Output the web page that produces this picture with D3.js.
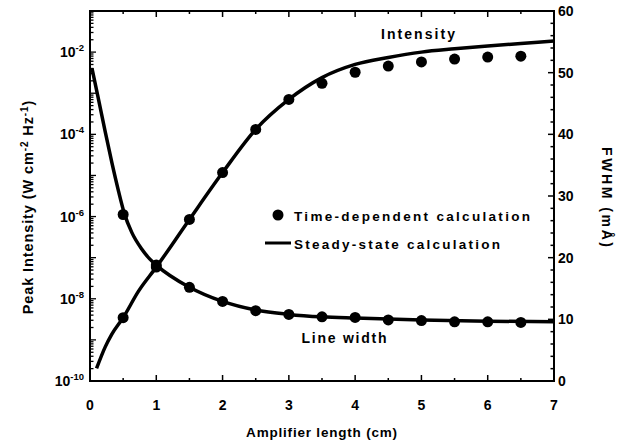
<!DOCTYPE html>
<html><head><meta charset="utf-8">
<script src="https://cdn.jsdelivr.net/npm/d3@7"></script>
<style>
body{margin:0;background:#fff;}
text{font-family:"Liberation Sans",Arial,sans-serif;font-weight:bold;fill:#000;}
</style></head>
<body><svg id="c" width="622" height="444"></svg>
<script>
// x positions (cm)
const lineX = [0.1, 0.23, 0.33, 0.5, 0.73, 1.0, 1.5, 2.0, 2.5, 3.0, 3.5, 4.0, 4.5, 5.0, 5.5, 6.0, 6.5, 7.0];
// steady-state peak intensity, log10 (W cm^-2 Hz^-1)
const intensityLineLog = [-9.69, -9.17, -8.86, -8.46, -7.82, -7.23, -6.07, -4.93, -3.88, -3.15, -2.62, -2.3, -2.13, -2.0, -1.92, -1.85, -1.79, -1.73];
// time-dependent points
const dotX = [0.5, 1.0, 1.5, 2.0, 2.5, 3.0, 3.5, 4.0, 4.5, 5.0, 5.5, 6.0, 6.5];
const intensityDotLog = [-8.46, -7.23, -6.07, -4.93, -3.88, -3.15, -2.76, -2.49, -2.34, -2.24, -2.17, -2.12, -2.1];
// line width (FWHM, mÅ)
const widthLineX = [0.03, 0.13, 0.23, 0.33, 0.43, 0.52, 0.63, 0.78, 0.9, 1.0, 1.5, 2.0, 2.5, 3.0, 3.5, 4.0, 5.0, 6.0, 7.0];
const widthLine = [50.7, 45.6, 40.4, 35.4, 30.8, 27.1, 24.1, 21.4, 19.8, 18.8, 15.2, 12.9, 11.5, 10.8, 10.4, 10.2, 9.9, 9.7, 9.6];
const widthDot = [27.0, 18.8, 15.2, 12.9, 11.4, 10.8, 10.4, 10.3, 9.9, 9.8, 9.6, 9.6, 9.5];
const xTicks = [0,1,2,3,4,5,6,7];
const yLeftLabels = [-2,-4,-6,-8,-10];
const yRightTicks = [0,10,20,30,40,50,60];

const svg = d3.select("#c");
const L=90, R=554, T=11, B=381;
const x = d3.scaleLinear().domain([0,7]).range([L,R]);
const yL = d3.scaleLog().domain([1e-10,1e-1]).range([B,T]);
const yR = d3.scaleLinear().domain([0,60]).range([B,T]);

// frame
svg.append("rect").attr("x",L).attr("y",T).attr("width",R-L).attr("height",B-T)
  .attr("fill","none").attr("stroke","#000").attr("stroke-width",2);

const g = svg.append("g");
// x ticks bottom & top
const halfTicks = d3.range(0,7.01,0.5);
halfTicks.forEach(v=>{
  const len = Number.isInteger(v)?6:3;
  g.append("line").attr("x1",x(v)).attr("x2",x(v)).attr("y1",B).attr("y2",B-len).attr("stroke","#000").attr("stroke-width",1.5);
  g.append("line").attr("x1",x(v)).attr("x2",x(v)).attr("y1",T).attr("y2",T+len).attr("stroke","#000").attr("stroke-width",1.5);
});
xTicks.forEach(v=>{
  g.append("text").attr("x",x(v)).attr("y",410).attr("text-anchor","middle").attr("font-size",14).text(v);
});
// left log ticks
for(let e=-10;e<-1;e++){
  for(let m=1;m<10;m++){
    const v=m*Math.pow(10,e);
    const len = m===1?6:3.5;
    g.append("line").attr("x1",L).attr("x2",L+len).attr("y1",yL(v)).attr("y2",yL(v)).attr("stroke","#000").attr("stroke-width",1.3);
  }
}
yLeftLabels.forEach(e=>{
  const t=g.append("text").attr("x",84).attr("y",yL(Math.pow(10,e))+5).attr("text-anchor","end").attr("font-size",14);
  t.append("tspan").text("10");
  t.append("tspan").attr("dy",-6).attr("font-size",9.5).text(String(e));
});
// right ticks
d3.range(0,60.01,2).forEach(v=>{
  const len = v%10===0?6:3.5;
  g.append("line").attr("x1",R).attr("x2",R-len).attr("y1",yR(v)).attr("y2",yR(v)).attr("stroke","#000").attr("stroke-width",1.5);
});
yRightTicks.forEach(v=>{
  g.append("text").attr("x",558).attr("y",yR(v)+5).attr("font-size",14).text(v);
});

// curves
const lineI = d3.line().x((d,i)=>x(lineX[i])).y(d=>yL(Math.pow(10,d))).curve(d3.curveMonotoneX);
svg.append("path").attr("d",lineI(intensityLineLog)).attr("fill","none").attr("stroke","#000").attr("stroke-width",3.5);
const lineW = d3.line().x((d,i)=>x(widthLineX[i])).y(d=>yR(d)).curve(d3.curveMonotoneX);
svg.append("path").attr("d",lineW(widthLine)).attr("fill","none").attr("stroke","#000").attr("stroke-width",3.5);

svg.selectAll(".di").data(intensityDotLog).enter().append("circle")
  .attr("cx",(d,i)=>x(dotX[i])).attr("cy",d=>yL(Math.pow(10,d))).attr("r",5.5).attr("fill","#000");
svg.selectAll(".dw").data(widthDot).enter().append("circle")
  .attr("cx",(d,i)=>x(dotX[i])).attr("cy",d=>yR(d)).attr("r",5.5).attr("fill","#000");

// annotations
svg.append("text").attr("x",418).attr("y",39).attr("text-anchor","middle").attr("font-size",14).attr("textLength",74).text("Intensity");
svg.append("text").attr("x",344).attr("y",343).attr("text-anchor","middle").attr("font-size",14).attr("textLength",85).text("Line width");
// legend
svg.append("circle").attr("cx",278).attr("cy",215).attr("r",5.5).attr("fill","#000");
svg.append("text").attr("x",294).attr("y",221).attr("font-size",13.5).attr("textLength",236).text("Time-dependent  calculation");
svg.append("line").attr("x1",265).attr("x2",291).attr("y1",243).attr("y2",243).attr("stroke","#000").attr("stroke-width",3);
svg.append("text").attr("x",294).attr("y",249).attr("font-size",13.5).attr("textLength",206).text("Steady-state  calculation");

// axis titles
svg.append("text").attr("x",322).attr("y",437).attr("text-anchor","middle").attr("font-size",13.5).attr("letter-spacing",0.8).text("Amplifier length (cm)");
const yt = svg.append("text").attr("transform","translate(33,207) rotate(-90)").attr("text-anchor","middle").attr("font-size",14.5).attr("letter-spacing",0.9);
yt.append("tspan").text("Peak Intensity (W cm");
yt.append("tspan").attr("dy",-5).attr("font-size",10).text("-2");
yt.append("tspan").attr("dy",5).text(" Hz");
yt.append("tspan").attr("dy",-5).attr("font-size",10).text("-1");
yt.append("tspan").attr("dy",5).text(")");
svg.append("text").attr("transform","translate(602,197) rotate(90)").attr("text-anchor","middle").attr("font-size",14).attr("textLength",100).text("FWHM  (mÅ)");
</script></body></html>
